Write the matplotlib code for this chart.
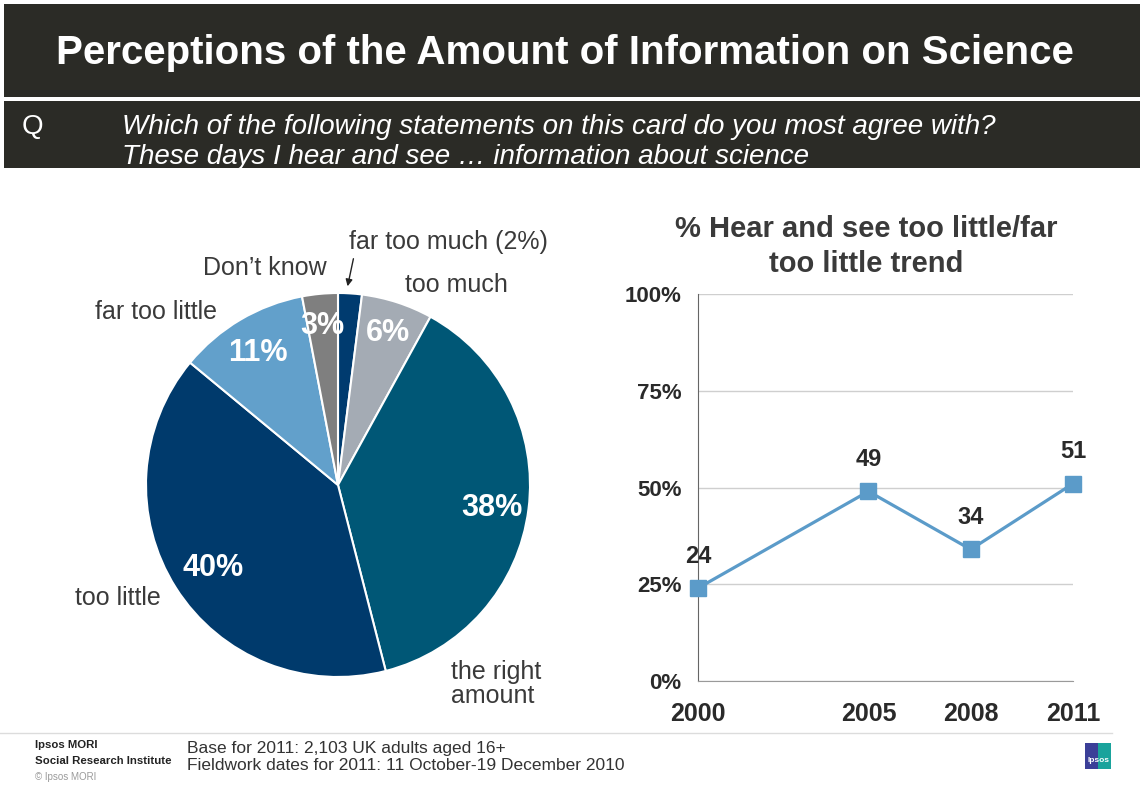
import matplotlib
matplotlib.use('Agg')
from matplotlib import pyplot as plt
from matplotlib.patches import Rectangle
import numpy as np

plt.rcParams['font.family'] = ['Liberation Sans', 'DejaVu Sans']

# 饼图数据（2011）
pie_labels = ['far too much', 'too much', 'the right amount', 'too little', 'far too little', "Don't know"]
pie_values = [2, 6, 38, 40, 11, 3]
pie_colors = ['#003b6f', '#a4abb4', '#005776', '#003a6c', '#62a0cb', '#7f7f7f']

# 趋势数据
years = [2000, 2005, 2008, 2011]
trend = [24, 49, 34, 51]
y_ticks = [0, 25, 50, 75, 100]

W, H = 1140, 785
fig = plt.figure(figsize=(W / 100, H / 100), dpi=100)


def fx(x):
    return x / W


def fy(y):
    return 1 - y / H


# 标题栏
fig.add_artist(Rectangle((fx(4), fy(97)), fx(1136), 93 / H, transform=fig.transFigure,
                         facecolor='#2b2b26', edgecolor='none'))
fig.add_artist(Rectangle((fx(4), fy(168)), fx(1136), 67 / H, transform=fig.transFigure,
                         facecolor='#2b2b26', edgecolor='none'))
fig.text(fx(565), fy(53), 'Perceptions of the Amount of Information on Science', color='white',
         fontsize=29, fontweight='bold', ha='center', va='center')
fig.text(fx(22), fy(127), 'Q', color='white', fontsize=20, ha='left', va='center')
fig.text(fx(122), fy(127), 'Which of the following statements on this card do you most agree with?',
         color='white', fontsize=20, style='italic', ha='left', va='center')
fig.text(fx(122), fy(157), 'These days I hear and see \u2026 information about science',
         color='white', fontsize=20, style='italic', ha='left', va='center')

# 饼图
cx, cy, r = 338, 485, 192
ax = fig.add_axes([fx(cx - r), fy(cy + r), 2 * r / W, 2 * r / H])
wedges, _ = ax.pie(pie_values, colors=pie_colors, startangle=90, counterclock=False,
                   wedgeprops=dict(edgecolor='white', linewidth=1.5))
ax.set_xlim(-1, 1)
ax.set_ylim(-1, 1)
ax.set_aspect('equal')
ax.axis('off')

label_r = [None, 0.85, 0.81, 0.77, 0.82, 0.85]
for w, v, rr in zip(wedges, pie_values, label_r):
    if rr is None:
        continue
    mid = np.deg2rad((w.theta1 + w.theta2) / 2)
    ax.text(rr * np.cos(mid), rr * np.sin(mid), '%d%%' % v, color='white', fontsize=22,
            fontweight='bold', ha='center', va='center_baseline')

lab_col = '#3a3a3a'
fig.text(fx(349), fy(242), 'far too much (2%)', color=lab_col, fontsize=18, ha='left', va='center')
fig.text(fx(405), fy(285), 'too much', color=lab_col, fontsize=18, ha='left', va='center')
fig.text(fx(203), fy(268), 'Don\u2019t know', color=lab_col, fontsize=18, ha='left', va='center')
fig.text(fx(95), fy(312), 'far too little', color=lab_col, fontsize=18, ha='left', va='center')
fig.text(fx(75), fy(598), 'too little', color=lab_col, fontsize=18, ha='left', va='center')
fig.text(fx(451), fy(672), 'the right', color=lab_col, fontsize=18, ha='left', va='center')
fig.text(fx(451), fy(696), 'amount', color=lab_col, fontsize=18, ha='left', va='center')
ax.annotate('', xy=(347, H - 289), xytext=(354, H - 256), xycoords='figure pixels',
            textcoords='figure pixels',
            arrowprops=dict(arrowstyle='-|>', color='#222222', lw=1, mutation_scale=10))

# 趋势图
ax2 = fig.add_axes([fx(698), fy(681), 375 / W, 387 / H])
ax2.plot(years, trend, color='#5b9bc9', lw=2.3, marker='s', ms=11, clip_on=False, zorder=3)
ax2.set_xlim(2000, 2011)
ax2.set_ylim(0, 100)
ax2.set_yticks(y_ticks)
ax2.set_yticklabels(['%d%%' % t for t in y_ticks], fontsize=16, fontweight='bold', color='#2a2a2a')
ax2.set_xticks(years)
ax2.set_xticklabels([str(y) for y in years], fontsize=18, fontweight='bold', color='#2a2a2a')
ax2.tick_params(axis='y', length=0, pad=12)
ax2.tick_params(axis='x', length=0, pad=15)
ax2.grid(axis='y', color='#cfcfcf', lw=1)
ax2.set_axisbelow(True)
for s in ['top', 'right']:
    ax2.spines[s].set_visible(False)
ax2.spines['left'].set_color('#666666')
ax2.spines['bottom'].set_color('#9a9a9a')
for a, b in zip(years, trend):
    ax2.annotate('%d' % b, (a, b), xytext=(0, 23), textcoords='offset points', ha='center',
                 va='center', fontsize=17, fontweight='bold', color='#2a2a2a')
fig.text(fx(866), fy(229), '% Hear and see too little/far', fontsize=21, fontweight='bold',
         color='#3a3a3a', ha='center', va='center')
fig.text(fx(866), fy(264), 'too little trend', fontsize=21, fontweight='bold',
         color='#3a3a3a', ha='center', va='center')

# 页脚
fig.add_artist(plt.Line2D([0, fx(1112)], [fy(733), fy(733)], transform=fig.transFigure,
                          color='#dcdcdc', lw=1))
fig.text(fx(35), fy(745), 'Ipsos MORI', fontsize=8.2, fontweight='bold', color='#222222',
         ha='left', va='center')
fig.text(fx(35), fy(761), 'Social Research Institute', fontsize=8.2, fontweight='bold',
         color='#222222', ha='left', va='center')
fig.text(fx(35), fy(777), '\u00a9 Ipsos MORI', fontsize=7, color='#9a9a9a', ha='left', va='center')
fig.text(fx(187), fy(748), 'Base for 2011: 2,103 UK adults aged 16+', fontsize=12.5,
         color='#333333', ha='left', va='center')
fig.text(fx(187), fy(765), 'Fieldwork dates for 2011: 11 October-19 December 2010', fontsize=12.5,
         color='#333333', ha='left', va='center')
fig.add_artist(Rectangle((fx(1085), fy(769)), 13 / W, 26 / H, transform=fig.transFigure,
                         facecolor='#3b3f98', edgecolor='none'))
fig.add_artist(Rectangle((fx(1098), fy(769)), 13 / W, 26 / H, transform=fig.transFigure,
                         facecolor='#1aa39c', edgecolor='none'))
fig.text(fx(1098), fy(761), 'Ipsos', fontsize=6, fontweight='bold', color='white',
         ha='center', va='center')

plt.savefig('out.png', dpi=100)
